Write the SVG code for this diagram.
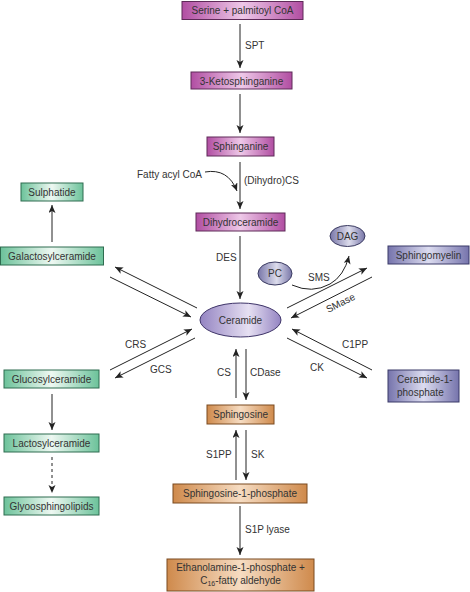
<svg xmlns="http://www.w3.org/2000/svg" width="470" height="592" viewBox="0 0 470 592">
<defs>
<linearGradient id="gM" x1="0" y1="0" x2="1" y2="0"><stop offset="0" stop-color="#b14ea2"/><stop offset="0.5" stop-color="#eec8e8"/><stop offset="1" stop-color="#b14ea2"/></linearGradient>
<linearGradient id="gG" x1="0" y1="0" x2="1" y2="0"><stop offset="0" stop-color="#6cc29a"/><stop offset="0.5" stop-color="#eef8f2"/><stop offset="1" stop-color="#6cc29a"/></linearGradient>
<linearGradient id="gB" x1="0" y1="0" x2="1" y2="0"><stop offset="0" stop-color="#7674ac"/><stop offset="0.5" stop-color="#dcdcf0"/><stop offset="1" stop-color="#7674ac"/></linearGradient>
<linearGradient id="gO" x1="0" y1="0" x2="1" y2="0"><stop offset="0" stop-color="#cf8a4c"/><stop offset="0.5" stop-color="#f6dcc2"/><stop offset="1" stop-color="#cf8a4c"/></linearGradient>
<linearGradient id="gE" x1="0" y1="0" x2="1" y2="0"><stop offset="0" stop-color="#9484c2"/><stop offset="0.6" stop-color="#e6e0f2"/><stop offset="1" stop-color="#9484c2"/></linearGradient>
<linearGradient id="gS" x1="0" y1="0" x2="1" y2="0"><stop offset="0" stop-color="#7876a8"/><stop offset="0.55" stop-color="#dcdcec"/><stop offset="1" stop-color="#7876a8"/></linearGradient>
<marker id="ah" markerUnits="userSpaceOnUse" markerWidth="9" markerHeight="8" refX="8" refY="3.5" orient="auto"><path d="M0,0 L8,3.5 L0,7 L2,3.5 z" fill="#222"/></marker>
</defs>
<style>
text{font-family:"Liberation Sans",Arial,sans-serif;font-size:10px;fill:#333}
.c{text-anchor:middle}
.bm{fill:url(#gM);stroke:#5e2a58;stroke-width:1}
.bg{fill:url(#gG);stroke:#2f6c50;stroke-width:1}
.bb{fill:url(#gB);stroke:#3a3a68;stroke-width:1}
.bo{fill:url(#gO);stroke:#7a4a20;stroke-width:1}
.el{fill:url(#gE);stroke:#3e3468;stroke-width:1}
.es{fill:url(#gS);stroke:#3a3a60;stroke-width:1}
.ln{stroke:#222;stroke-width:1;fill:none}
.ar{stroke:#222;stroke-width:1;fill:none;marker-end:url(#ah)}
</style>
<g id="connectors">
<line class="ar" x1="240" y1="24" x2="240" y2="68"/>
<line class="ar" x1="240" y1="94" x2="240" y2="133"/>
<line class="ar" x1="240" y1="162" x2="240" y2="209"/>
<path class="ar" d="M205,172 Q228,168 237,191"/>
<line class="ar" x1="240" y1="236" x2="240" y2="299"/>
<line class="ar" x1="236" y1="398" x2="236" y2="349"/>
<line class="ar" x1="246" y1="349" x2="246" y2="400"/>
<line class="ar" x1="236" y1="480" x2="236" y2="430"/>
<line class="ar" x1="246" y1="430" x2="246" y2="480"/>
<line class="ar" x1="240" y1="506" x2="240" y2="555"/>
<line class="ar" x1="52" y1="242" x2="52" y2="205"/>
<line class="ar" x1="52" y1="394" x2="52" y2="430"/>
<line class="ar" x1="52" y1="457" x2="52" y2="493" stroke-dasharray="3,3"/>
<line class="ar" x1="197" y1="308" x2="115" y2="267"/>
<line class="ar" x1="110" y1="277" x2="191" y2="317"/>
<line class="ar" x1="110" y1="370" x2="192" y2="329"/>
<line class="ar" x1="195" y1="338" x2="115" y2="378"/>
<line class="ar" x1="287" y1="308" x2="367" y2="268"/>
<line class="ar" x1="372" y1="277" x2="291" y2="318"/>
<line class="ar" x1="372" y1="370" x2="292" y2="329"/>
<line class="ar" x1="287" y1="338" x2="367" y2="378"/>
<path class="ar" d="M292,285 Q312,294 330,284 Q344,276 349,256"/>
</g>
<g id="labels">
<text x="245" y="49">SPT</text>
<text x="137" y="178">Fatty acyl CoA</text>
<text x="244" y="184">(Dihydro)CS</text>
<text x="216" y="261">DES</text>
<text x="217" y="376">CS</text>
<text x="250" y="376">CDase</text>
<text x="206" y="458">S1PP</text>
<text x="251" y="458">SK</text>
<text x="245" y="533">S1P lyase</text>
<text x="125" y="348">CRS</text>
<text x="150" y="373">GCS</text>
<text x="308" y="281">SMS</text>
<text x="342" y="348">C1PP</text>
<text x="310" y="371">CK</text>
<text class="c" transform="translate(342,306) rotate(-27)">SMase</text>
</g>
<g id="serine"><rect class="bm" x="182" y="1.5" width="121" height="18"/><text class="c" x="242.5" y="14">Serine + palmitoyl CoA</text></g>
<g id="ketosphinganine"><rect class="bm" x="191" y="72" width="101" height="17"/><text class="c" x="241.5" y="84.5">3-Ketosphinganine</text></g>
<g id="sphinganine"><rect class="bm" x="207" y="137" width="67" height="19"/><text class="c" x="240.5" y="150">Sphinganine</text></g>
<g id="dihydroceramide"><rect class="bm" x="196" y="213" width="89" height="18"/><text class="c" x="240.5" y="226">Dihydroceramide</text></g>
<g id="ceramide"><ellipse class="el" cx="240.5" cy="320" rx="40.5" ry="17"/><text class="c" x="240.5" y="323.5">Ceramide</text></g>
<g id="dag"><ellipse class="es" cx="347.5" cy="236" rx="17.5" ry="10.5"/><text class="c" x="347.5" y="239.5">DAG</text></g>
<g id="pc"><ellipse class="es" cx="275" cy="273.5" rx="17" ry="11.5"/><text class="c" x="275" y="277">PC</text></g>
<g id="sphingomyelin"><rect class="bb" x="388" y="246" width="81" height="18"/><text class="c" x="428.5" y="259">Sphingomyelin</text></g>
<g id="c1p"><rect class="bb" x="388" y="370" width="71" height="32"/><text x="397" y="383">Ceramide-1-</text><text x="397" y="396">phosphate</text></g>
<g id="sphingosine"><rect class="bo" x="207" y="405" width="67" height="19"/><text class="c" x="240.5" y="418">Sphingosine</text></g>
<g id="s1p"><rect class="bo" x="173" y="484" width="134" height="19"/><text class="c" x="240" y="497">Sphingosine-1-phosphate</text></g>
<g id="ethanolamine"><rect class="bo" x="167" y="559" width="147" height="32"/><text class="c" x="240.5" y="571">Ethanolamine-1-phosphate +</text><text class="c" x="240.5" y="584">C<tspan font-size="7" dy="2">16</tspan><tspan dy="-2">-fatty aldehyde</tspan></text></g>
<g id="sulphatide"><rect class="bg" x="21" y="183" width="62" height="18"/><text class="c" x="52" y="196">Sulphatide</text></g>
<g id="galactosylceramide"><rect class="bg" x="0.5" y="247" width="103" height="18"/><text class="c" x="52" y="260">Galactosylceramide</text></g>
<g id="glucosylceramide"><rect class="bg" x="4" y="370" width="95" height="18"/><text class="c" x="51.5" y="383">Glucosylceramide</text></g>
<g id="lactosylceramide"><rect class="bg" x="4" y="434" width="95" height="18"/><text class="c" x="51.5" y="447">Lactosylceramide</text></g>
<g id="glycosphingolipids"><rect class="bg" x="4" y="497" width="95" height="18"/><text class="c" x="51.5" y="510">Glyoosphingolipids</text></g>
</svg>
